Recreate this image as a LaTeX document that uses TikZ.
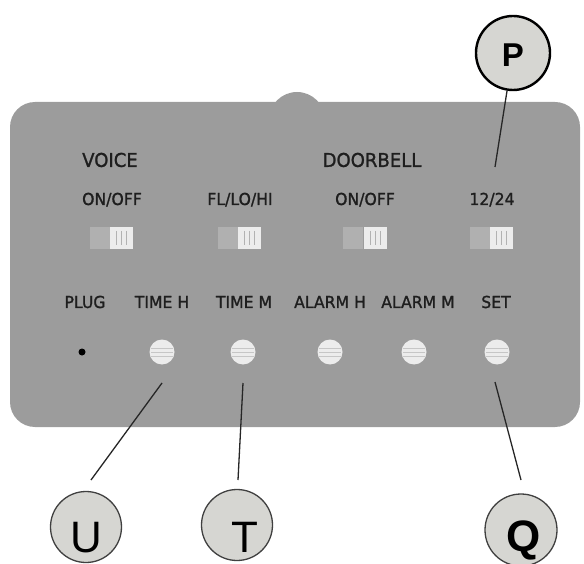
\documentclass[tikz,border=0pt]{standalone}
\usepackage{fontspec}
\setmainfont{Liberation Sans}
\newfontfamily\panelfont[FakeBold = 1.2, FakeStretch = 0.95]{DejaVu Sans}
\usetikzlibrary{positioning}

\definecolor{panelgray}{HTML}{9C9C9C}
\definecolor{bubblefill}{HTML}{D6D6D2}
\definecolor{keywhite}{HTML}{ECECEC}
\definecolor{slidegray}{HTML}{B0B0B0}
\definecolor{inkdark}{HTML}{1E1E1E}

\begin{document}
\begin{tikzpicture}[x = 1pt, y = -1pt]
	% Styles for the panel parts
	\tikzset{
		panel label/.style = {font = \panelfont\fontsize{16.5}{16.5}\selectfont, text = inkdark, inner sep = 0pt, text height = 12pt, text depth = 0pt},
		group label/.style = {panel label, font = \panelfont\fontsize{19}{19}\selectfont, text height = 13.8pt},
		slide/.style = {rectangle, fill = slidegray, minimum width = 20pt, minimum height = 22pt, inner sep = 0pt},
		knob/.style = {rectangle, fill = keywhite, minimum width = 23pt, minimum height = 22pt, inner sep = 0pt,
			path picture = {\foreach \dx in {-5, 0, 5} {\draw[gray!60, line width = 1pt] ([shift = {(\dx, -7)}]path picture bounding box.center) -- ([shift = {(\dx, 7)}]path picture bounding box.center);}}},
		key/.style = {circle, fill = keywhite, minimum size = 25pt, inner sep = 0pt,
			path picture = {\foreach \dy in {-4, 0, 4} {\draw[gray!45, line width = 0.8pt] ([shift = {(-11, \dy)}]path picture bounding box.center) -- ([shift = {(11, \dy)}]path picture bounding box.center);}}},
		bubble/.style = {circle, draw = black!75, line width = 1.3pt, fill = bubblefill, minimum size = 71pt, inner sep = 0pt},
		leader/.style = {draw = black!85, line width = 1.3pt}
	}

	% Frame of the picture
	\useasboundingbox (0, 0) rectangle (584, 564);

	% The panel with its bump on top
	\fill[panelgray] (297, 120) circle (28pt);
	\fill[panelgray, rounded corners = 25pt] (10, 102) rectangle (580, 427);

	% Group titles
	\node[group label] (voice) at (110, 160) {VOICE};
	\node[group label] (doorbell) at (372, 160) {DOORBELL};

	% Switch labels
	\node[panel label] (voiceonoff) at (112, 199) {ON/OFF};
	\node[panel label] (level) at (240, 199) {FL/LO/HI};
	\node[panel label] (bellonoff) at (365, 199) {ON/OFF};
	\node[panel label] (hours) at (492, 199) {12/24};

	% Slide switches
	\node[knob] (kn1) at (121.5, 238) {};
	\node[slide, left = 0pt of kn1] (sl1) {};
	\node[knob] (kn2) at (249.5, 238) {};
	\node[slide, left = 0pt of kn2] (sl2) {};
	\node[knob] (kn3) at (375, 238) {};
	\node[slide, left = 0pt of kn3] (sl3) {};
	\node[knob] (kn4) at (501.5, 238) {};
	\node[slide, left = 0pt of kn4] (sl4) {};

	% Button labels
	\node[panel label] (plug) at (85, 302) {PLUG};
	\node[panel label] (timeh) at (162, 302) {TIME H};
	\node[panel label] (timem) at (244, 302) {TIME M};
	\node[panel label] (alarmh) at (330, 302) {ALARM H};
	\node[panel label] (alarmm) at (418, 302) {ALARM M};
	\node[panel label] (set) at (496, 302) {SET};

	% Plug hole and buttons
	\node[circle, fill = black, minimum size = 7pt, inner sep = 0pt] (hole) at (82, 352) {};
	\node[key] (keyth) at (162, 352) {};
	\node[key] (keytm) at (243, 352) {};
	\node[key] (keyah) at (330, 352) {};
	\node[key] (keyam) at (414, 352) {};
	\node[key] (keyset) at (497, 352) {};

	% Callout bubbles
	\node[bubble, line width = 2.4pt, draw = black, minimum size = 74pt,
		label = {[font = \bfseries\fontsize{33}{33}\selectfont, yshift = -2pt]center:P}] (P) at (513, 53) {};
	\node[bubble, label = {[font = \fontsize{44}{44}\selectfont, yshift = -11pt]center:U}] (U) at (86, 527) {};
	\node[bubble, label = {[font = \fontsize{44}{44}\selectfont, xshift = 8pt, yshift = -12pt]center:T}] (T) at (237, 525) {};
	\node[bubble, minimum size = 72pt, label = {[font = \bfseries\fontsize{44}{44}\selectfont, xshift = 3pt, yshift = -10pt]center:Q}] (Q) at (521, 530) {};

	% Leader lines
	\coordinate (P-end) at (495, 167);
	\coordinate (U-start) at (162, 383);
	\coordinate (U-end) at (91, 480);
	\coordinate (T-start) at (243, 383);
	\coordinate (T-end) at (238, 480);
	\coordinate (Q-start) at (495, 382);
	\coordinate (Q-end) at (521, 480);

	\draw[leader] (P) -- (P-end);
	\draw[leader] (U-start) -- (U-end);
	\draw[leader] (T-start) -- (T-end);
	\draw[leader] (Q-start) -- (Q-end);

\end{tikzpicture}
\end{document}
